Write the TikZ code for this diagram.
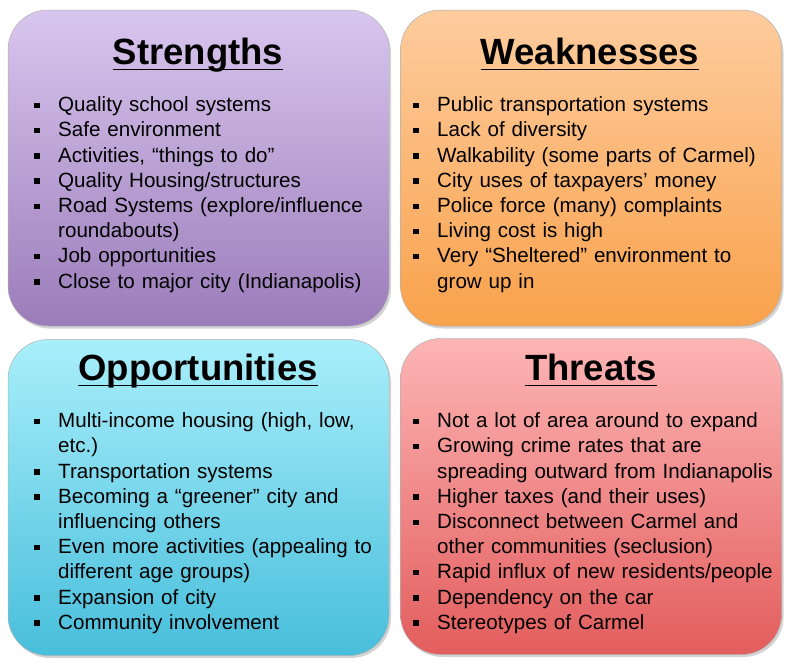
\documentclass[tikz,border=0pt]{standalone}
\usepackage{xcolor}
\usepackage{fontspec}
\setmainfont{Liberation Sans}
\usetikzlibrary{shadows}

\newenvironment{bulletlist}{%
  \begin{list}{\rule[3.5pt]{5.5pt}{5.5pt}}{%
    \setlength{\leftmargin}{24pt}\setlength{\labelwidth}{5.5pt}%
    \setlength{\labelsep}{18.5pt}\setlength{\itemsep}{0pt}%
    \setlength{\parsep}{0pt}\setlength{\topsep}{0pt}\setlength{\partopsep}{0pt}}}%
  {\end{list}}

\begin{document}
\begin{tikzpicture}[x=1pt,y=1pt,
  swotbox/.style={rounded corners=40pt, draw=black!30, line width=0.5pt,
    minimum width=381pt, minimum height=316pt,
    drop shadow={shadow xshift=2pt, shadow yshift=-2.5pt, opacity=0.35}},
  swottitle/.style={font={\fontsize{36.5}{40}\selectfont\bfseries}, inner sep=0pt, anchor=base},
  swotlist/.style={font={\fontsize{20.6}{25.2}\selectfont}, inner sep=0pt, anchor=base west,
    text width=372pt, align=left},
  underline/.style={line width=1.3pt}]

% Colori
\definecolor{strTop}{HTML}{D9C6EE}
\definecolor{strBot}{HTML}{9B7CBA}
\definecolor{weaTop}{HTML}{FDCC9E}
\definecolor{weaBot}{HTML}{F9A24C}
\definecolor{oppTop}{HTML}{A9EFFB}
\definecolor{oppBot}{HTML}{48BEDB}
\definecolor{thrTop}{HTML}{FDB5B5}
\definecolor{thrBot}{HTML}{E35D5D}

\useasboundingbox (0,0) rectangle (792,-670);

% Riquadri
\node[swotbox, top color=strTop, bottom color=strBot] (str) at (198.5,-168) {};
\node[swotbox, top color=weaTop, bottom color=weaBot] (wea) at (591,-168) {};
\node[swotbox, top color=oppTop, bottom color=oppBot] (opp) at (198.5,-497.5) {};
\node[swotbox, top color=thrTop, bottom color=thrBot] (thr) at (591,-496.5) {};

% Titoli
\node[swottitle] (strT) at (198,-64) {Strengths};
\node[swottitle] (weaT) at (590,-64) {Weaknesses};
\node[swottitle] (oppT) at (198,-380) {Opportunities};
\node[swottitle] (thrT) at (591,-380) {Threats};

\foreach \t in {strT,weaT,oppT,thrT}
  \draw[underline] ([yshift=-5.5pt]\t.base west) -- ([yshift=-5.5pt]\t.base east);

% Strengths
\node[swotlist] (strL) at (34,-86.5) {\begin{bulletlist}
  \item Quality school systems
  \item Safe environment
  \item Activities, “things to do”
  \item Quality Housing/structures
  \item Road Systems (explore/influence\\ roundabouts)
  \item Job opportunities
  \item Close to major city (Indianapolis)
\end{bulletlist}};

% Weaknesses
\node[swotlist] (weaL) at (413,-86.5) {\begin{bulletlist}
  \item Public transportation systems
  \item Lack of diversity
  \item Walkability (some parts of Carmel)
  \item City uses of taxpayers’ money
  \item Police force (many) complaints
  \item Living cost is high
  \item Very “Sheltered” environment to\\ grow up in
\end{bulletlist}};

% Opportunities
\node[swotlist] (oppL) at (34,-402.5) {\begin{bulletlist}
  \item Multi-income housing (high, low,\\ etc.)
  \item Transportation systems
  \item Becoming a “greener” city and\\ influencing others
  \item Even more activities (appealing to\\ different age groups)
  \item Expansion of city
  \item Community involvement
\end{bulletlist}};

% Threats
\node[swotlist] (thrL) at (413,-402.5) {\begin{bulletlist}
  \item Not a lot of area around to expand
  \item Growing crime rates that are\\ spreading outward from Indianapolis
  \item Higher taxes (and their uses)
  \item Disconnect between Carmel and\\ other communities (seclusion)
  \item Rapid influx of new residents/people
  \item Dependency on the car
  \item Stereotypes of Carmel
\end{bulletlist}};

\end{tikzpicture}
\end{document}
